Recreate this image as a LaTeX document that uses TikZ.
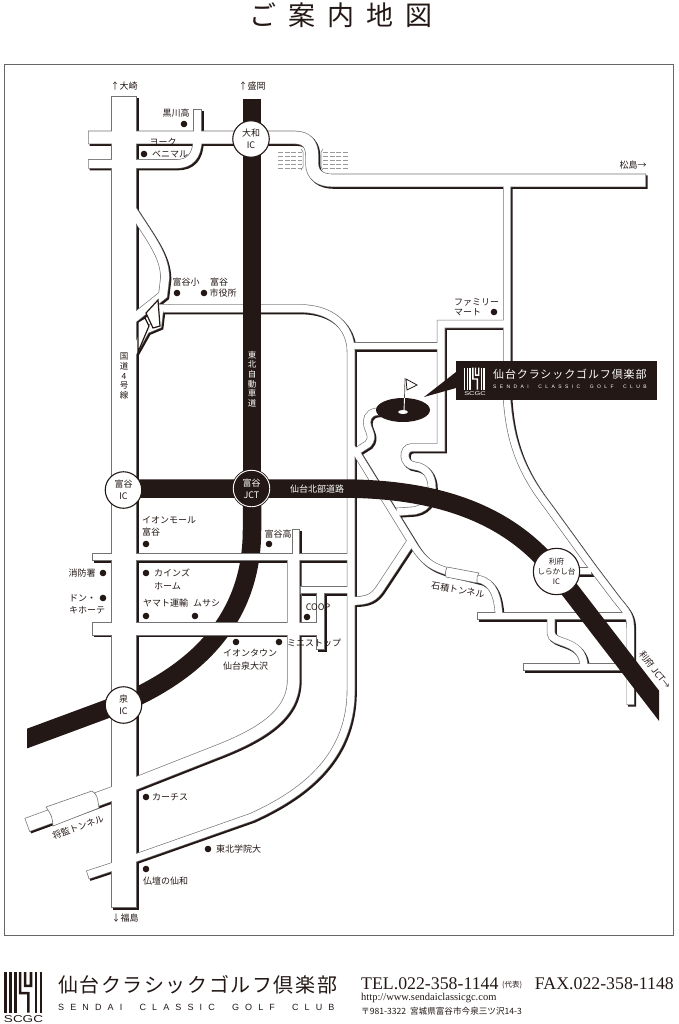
\documentclass[tikz,border=0pt]{standalone}
\usepackage{fontspec}
\usepackage{xcolor}
\setmainfont{Noto Sans CJK JP}
\newfontfamily\jpwide[LetterSpace=8]{Noto Sans CJK JP}
\newfontfamily\jptitle[LetterSpace=45]{Noto Sans CJK JP}
\newfontfamily\latinwide[LetterSpace=68]{Liberation Sans}
\newfontfamily\latinplain{Liberation Sans}
\newfontfamily\serifnum{Liberation Serif}
\usetikzlibrary{positioning}
\definecolor{ink}{HTML}{231815}

\tikzset{
	lbl/.style={inner sep=0pt, text=ink, font=\fontsize{9}{12}\selectfont, align=center},
	lblw/.style={lbl, anchor=west, align=left},
	spot/.style={circle, fill=ink, inner sep=0pt, minimum size=6.6pt},
	icnode/.style={circle, draw=ink, line width=1.1pt, fill=white, inner sep=0pt, minimum size=36.5pt, text=ink, align=center, font=\fontsize{9}{12}\selectfont},
	expressway/.style={draw=ink, line width=18.5pt},
	edgegray/.style={draw=black!55, line width=.6pt},
	island/.style={draw=ink, line width=1.2pt, fill=white, line join=miter},
}

% every road is stroked three times: shadow, edge, white
\newcommand{\road}[2]{}
\newcommand{\roadnet}{
	\road{26}{(124,96) -- (124,908)}
	% north
	\road{13.5}{(88,137.5) -- (295,137.5) .. controls (307,137.5) and (312,145) .. (312,155) -- (312,163) .. controls (312,175) and (320,180.5) .. (333,180.5) -- (646,180.5)}
	\road{9.5}{(88,164) -- (176,164) .. controls (190,164) and (197,156) .. (197.5,140)}
	\road{9}{(197.5,109) -- (197.5,137)}
	\road{9.5}{(128,203) .. controls (150,238) and (165,255) .. (165,278) -- (163,295) -- (148,307) -- (128,323)}
	\road{8}{(170,308) -- (160,308) -- (158,325) -- (146,330) -- (128,362)}
	\road{8.5}{(163,308.5) -- (300,308.5) .. controls (330,308.5) and (351,325) .. (351,352) -- (351,690) .. controls (351,760) and (300,795) .. (252,817) -- (124,862)}
	\road{8}{(351,346) -- (441,346)}
	\road{8.5}{(507,324) -- (441,324) -- (441,447.5) -- (412,447.5) .. controls (402,447.5) and (402,465) .. (415,466) .. controls (425,467) and (432,475) .. (432,488) .. controls (432,500) and (425,511) .. (410,511) -- (396,512)}
	\road{8}{(507,180) -- (507,400) .. controls (510,440) and (520,470) .. (547,505) -- (592,567) -- (617,600) .. controls (627,612) and (630.5,616) .. (630.5,628) -- (630.5,705)}
	\road{8}{(385,412) .. controls (372,410) and (367,415) .. (367,422) .. controls (367,430) and (375,436) .. (368,444) -- (354,453)}
	% east, round the tunnel
	\road{8}{(351,447) -- (358,455) -- (411,541) .. controls (425,565) and (435,569) .. (462,575) -- (478,579) .. controls (495,582) and (498,600) .. (499,616)}
	\road{9}{(351,601) .. controls (368,601) and (374,598) .. (381,587) -- (412,540)}
	\road{8}{(477,616) -- (630,616)}
	\road{8}{(573,571) -- (592,571)}
	\road{8.5}{(551,616) -- (551,633) .. controls (551,645) and (583,638) .. (584,667)}
	\road{8}{(523,667) -- (630,667)}
	% south
	\road{8}{(92,557) -- (351,557)}
	\road{13.5}{(92,629) -- (320,629)}
	\road{8}{(300,590) -- (351,590)}
	\road{8}{(296,529) -- (296,557)}
	\road{9}{(320.5,590) -- (320.5,650)}
	\road{13}{(293.5,557) -- (293.5,680) .. controls (293.5,715) and (260,735) .. (213,753) -- (124,788)}
	\road{14.5}{(124,789.5) -- (27,825)}
	\road{9}{(124,863) -- (87.5,875)}
}
\newcommand{\scgcmark}[4]{
	\begin{scope}[shift={(#1,#2)}, scale=#3]
		\foreach \bx in {0,15,30,93,108} \fill[#4] (\bx,0) rectangle ++(8,123);
		\fill[#4] (45,0) rectangle ++(8,68) (45,60) rectangle ++(33,8) (70,60) rectangle ++(8,63);
		\fill[#4] (60,0) rectangle ++(8,46) (60,38) rectangle ++(25,8) (78,0) rectangle ++(8,46);
	\end{scope}
}

\begin{document}
\begin{tikzpicture}[x=1pt, y=-1pt]
	\useasboundingbox (0,0) rectangle (678,1024);
	\node (title) [inner sep=0pt, anchor=west, text=ink, font=\jptitle\fontsize{27}{30}\selectfont] at (249,15) {ご案内地図};
	\draw[black!60, line width=1pt] (4,65) rectangle (673,935);

	% lower expressway goes under the roads
	\begin{scope}
		\clip (27,0) rectangle (659,1024);
		\draw[expressway] (252,500) -- (252,530) .. controls (252,620) and (195,672) .. (123,703) -- (15,743);
	\end{scope}

	\renewcommand{\road}[2]{\draw[ink, line width=#1pt, shift={(1.6,1.6)}] #2;}
	\roadnet
	\renewcommand{\road}[2]{\draw[black!55, line width=#1pt] #2;}
	\roadnet
	\renewcommand{\road}[2]{\draw[white, line width=#1pt-1.3pt, shorten <=.7pt, shorten >=.7pt] #2;}
	\roadnet

	% ramps at the north end of route 4
	\draw[island] (146,313) -- (158,300) -- (160,326) -- (153,328) -- cycle;
	\draw[island] (138,322) -- (145,318) -- (149,326) -- (138,352) -- cycle;

	% tunnels
	\draw[edgegray, fill=white] (46,807) -- (92,791) .. controls (97,795) .. (99,808) -- (53,826) .. controls (52,816) .. (46,807);
	\draw[edgegray, fill=white] (447,567) -- (479,573) .. controls (477,576) .. (477,583) -- (446,577) .. controls (445,573) .. (447,567);

	% river
	\foreach \ry in {152,156,160,164,168} {
		\draw[black!40, line width=.6pt, dash pattern=on 5pt off 1.5pt] (278,\ry) -- (302,\ry);
		\draw[black!40, line width=.6pt, dash pattern=on 5pt off 1.5pt] (323,\ry) -- (348,\ry);
	}
	\draw[black!55, line width=.5pt] (301,149) -- (303,152) -- (303,167) -- (301,170);
	\draw[black!55, line width=.5pt] (323,149) -- (321,152) -- (321,167) -- (323,170);

	% upper expressway goes over them
	\begin{scope}
		\clip (27,0) rectangle (659,1024);
		\draw[expressway] (252,99) -- (252,488.5);
		\draw[expressway] (124,488.5) -- (340,488.5) .. controls (420,488.5) and (490,505) .. (540,555) .. controls (550,565) and (556,572) .. (566,585) -- (680,733);
	\end{scope}

	\node (yamato) [icnode] at (251,139) {大和\\IC};
	\node (tomiya) [icnode] at (123.5,490) {富谷\\IC};
	\node (izumi) [icnode] at (123.5,705) {泉\\IC};
	\node (rifu) [icnode, font=\fontsize{7.6}{10}\selectfont] at (556.5,571.5) {利府\\しらかし台\\IC};
	\node (jct) [icnode, fill=ink, draw=white, line width=.9pt, text=white, preaction={draw=ink, line width=2.6pt}] at (251.5,488.5) {富谷\\JCT};

	% golf course and name panel
	\fill[ink] (403,410) ellipse [x radius=27, y radius=12];
	\fill[white] (403,412) ellipse [x radius=5, y radius=2];
	\draw[black!70, line width=.7pt] (405,378) -- (404.5,398);
	\draw[white, line width=.9pt] (404.5,398) -- (404,411);
	\draw[ink, line width=.8pt, fill=white] (406,379) -- (417,385) -- (407,390) -- cycle;
	\fill[ink] (424,397) -- (456,372) -- (456,388) -- cycle;
	\node (panel) [fill=ink, minimum width=201pt, minimum height=39pt, inner sep=0pt, anchor=north west] at (456,361) {};
	\scgcmark{464}{367.5}{.18}{white}
	\node (panelscgc) [inner sep=0pt, text=white, font=\latinplain\fontsize{5.5}{6}\selectfont] at (475,394) {\scalebox{1.35}[1]{SCGC}};
	\node (panelname) [inner sep=0pt, anchor=west, text=white, font=\jpwide\fontsize{11}{13}\selectfont] at (493,374) {仙台クラシックゴルフ倶楽部};
	\node (panelen) [inner sep=0pt, anchor=west, text=white, font=\latinwide\fontsize{5}{6}\selectfont] at (493,387) {SENDAI\ \ CLASSIC\ \ GOLF\ \ CLUB};

	% places
	\node (osaki) [lbl] at (124,86) {↑大崎};
	\node (morioka) [lbl] at (252,86) {↑盛岡};
	\node (kurokawa) [lbl] at (176,113) {黒川高};
	\node (spkurokawa) [spot] at (184,124) {};
	\node (york) [lbl] at (163,142) {ヨーク};
	\node (spyork) [spot] at (144,154) {};
	\node (benimaru) [lbl] at (170,154) {ベニマル};
	\node (tomiyasho) [lbl] at (186,282) {富谷小};
	\node (spsho) [spot] at (177,293) {};
	\node (tomiyacity) [lbl] at (219,282) {富谷};
	\node (spcity) [spot] at (204,293) {};
	\node (yakusho) [lbl] at (223,293) {市役所};
	\node (matsushima) [lbl] at (633,165) {松島→};
	\node (family) [lblw] at (454,302) {ファミリー};
	\node (mart) [lblw] at (454,312) {マート};
	\node (spfamily) [spot] at (494,312) {};
	\node (route) [lbl, font=\fontsize{8.5}{9.6}\selectfont] at (124,376) {国\\道\\4\\号\\線};
	\node (tohoku) [lbl, text=white, font=\fontsize{8.5}{9.6}\selectfont] at (252,379) {東\\北\\自\\動\\車\\道};
	\node (hokubu) [lbl, text=white] at (317,489) {仙台北部道路};
	\node (aeon) [lblw, anchor=north west] at (142,516) {イオンモール\\富谷};
	\node (spaeon) [spot] at (146,544) {};
	\node (tomiyako) [lbl] at (278,534) {富谷高};
	\node (spko) [spot] at (269,544) {};
	\node (shobo) [lbl] at (82,573) {消防署};
	\node (spshobo) [spot] at (103,573) {};
	\node (donki) [lblw] at (69,598) {ドン・};
	\node (kihote) [lblw] at (69,610) {キホーテ};
	\node (spdonki) [spot] at (103,598) {};
	\node (spcainz) [spot] at (146,573) {};
	\node (cainz) [lblw] at (154,573) {カインズ};
	\node (home) [lblw] at (154,586) {ホーム};
	\node (yamatounyu) [lblw] at (143,603) {ヤマト運輸};
	\node (musashi) [lblw] at (193,603) {ムサシ};
	\node (spyamato) [spot] at (146,616) {};
	\node (spmusashi) [spot] at (195,616) {};
	\node (coop) [lbl] at (318,607) {COOP};
	\node (spcoop) [spot] at (307,617) {};
	\node (spaeontown) [spot] at (236,642) {};
	\node (spmini) [spot] at (279,642) {};
	\node (mini) [lblw] at (287,643) {ミニストップ};
	\node (aeontown) [lblw] at (223,653) {イオンタウン};
	\node (izumiosawa) [lblw] at (223,666) {仙台泉大沢};
	\node (spcarchs) [spot] at (146,797) {};
	\node (carchs) [lblw] at (152,797) {カーチス};
	\node (spgakuin) [spot] at (208,849) {};
	\node (gakuin) [lblw] at (216,849) {東北学院大};
	\node (spsenwa) [spot] at (146,869) {};
	\node (senwa) [lblw] at (143,881) {仏壇の仙和};
	\node (fukushima) [lbl] at (125,918) {↓福島};
	\node (shogen) [lbl, rotate=20] at (78,827) {将監トンネル};
	\node (ishizumi) [lbl, rotate=-10] at (458,590) {石積トンネル};
	\node (rifujct) [lbl, rotate=-52] at (655,670) {利府 JCT→};

	% footer
	\scgcmark{4}{972}{.33}{ink}
	\node (footscgc) [inner sep=0pt, text=ink, font=\latinplain\fontsize{10}{11}\selectfont] at (23.5,1019) {\scalebox{1.35}[1]{SCGC}};
	\node (footname) [inner sep=0pt, anchor=west, text=ink, font=\jpwide\fontsize{20}{22}\selectfont] at (58,985) {仙台クラシックゴルフ倶楽部};
	\node (footen) [inner sep=0pt, anchor=west, text=ink, font=\latinwide\fontsize{9}{10}\selectfont] at (58,1007) {SENDAI\ \ CLASSIC\ \ GOLF\ \ CLUB};
	\node (tel) [inner sep=0pt, anchor=west, text=ink, font=\serifnum\fontsize{17.8}{20}\selectfont] at (361,984) {TEL.022-358-1144};
	\node (daihyo) [inner sep=0pt, anchor=west, text=ink, font=\fontsize{7.5}{8}\selectfont] at (502,985) {(代表)};
	\node (fax) [inner sep=0pt, anchor=east, text=ink, font=\serifnum\fontsize{17.8}{20}\selectfont] at (674,984) {FAX.022-358-1148};
	\node (web) [inner sep=0pt, anchor=west, text=ink, font=\serifnum\fontsize{10.5}{12}\selectfont] at (361,998) {http://www.sendaiclassicgc.com};
	\node (address) [inner sep=0pt, anchor=west, text=ink, font=\fontsize{8.6}{10}\selectfont] at (361,1011) {〒981-3322\ \ 宮城県富谷市今泉三ツ沢14-3};
\end{tikzpicture}
\end{document}
